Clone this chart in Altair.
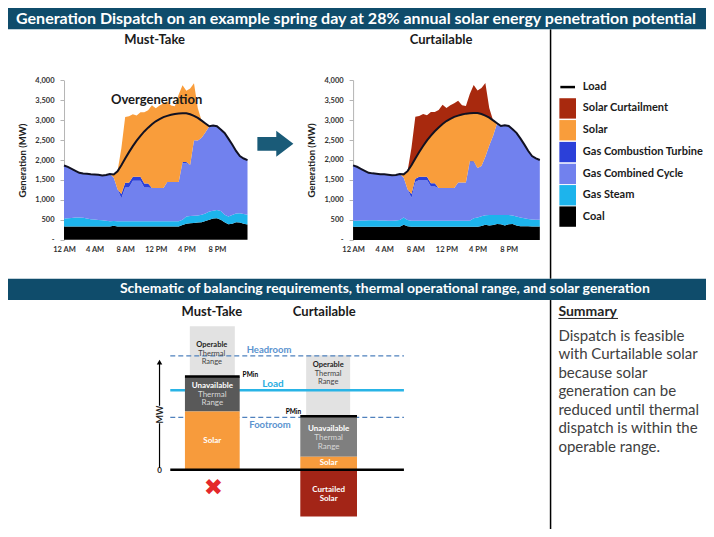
import altair as alt
import pandas as pd

FONT = "Lato"
W, H = 698, 521
KX = W / 714
KY = H / 537

# ---------------- time-series data (MW), half-hour steps from 12 AM to 12 AM ----------------
hours = [i / 2 for i in range(49)]

load = [1865, 1830, 1780, 1730, 1680, 1665, 1655, 1645, 1640, 1630, 1615, 1625, 1650,
        1640, 1720, 1870, 2040, 2200, 2350, 2490, 2610, 2720, 2815, 2900, 2975,
        3030, 3080, 3110, 3140, 3160, 3170, 3175, 3175, 3150, 3110, 3060, 2990,
        2920, 2850, 2870, 2850, 2770, 2680, 2540, 2390, 2230, 2100, 2040, 2000]

# top of thermal generation plus all available solar
supply_top = [1865, 1830, 1780, 1730, 1680, 1665, 1655, 1645, 1640, 1630, 1615, 1625, 1650,
              1640, 1720, 2300, 3080, 3100, 3150, 3120, 3200, 3200, 3250, 3380, 3300,
              3370, 3420, 3480, 3370, 3350, 3650, 3880, 3740, 3800, 3930, 3300, 2990,
              2920, 2850, 2870, 2850, 2770, 2680, 2540, 2390, 2230, 2100, 2040, 2000]

# Must-Take case
mt_coal = [330, 330, 330, 330, 330, 330, 330, 330, 330, 330, 330, 330, 330,
           350, 330, 330, 330, 330, 330, 330, 330, 330, 330, 330, 330,
           330, 330, 330, 330, 330, 330, 370, 400, 410, 420, 430, 440,
           470, 500, 530, 540, 500, 440, 390, 400, 440, 430, 400, 380]
mt_steam_top = [530, 540, 545, 555, 560, 550, 530, 515, 505, 495, 487, 475, 462,
                470, 462, 462, 462, 462, 462, 462, 462, 462, 462, 462, 462,
                462, 462, 462, 462, 462, 462, 500, 585, 595, 600, 610, 625,
                660, 705, 730, 745, 720, 625, 585, 620, 655, 665, 645, 625]
mt_cc_top = [1865, 1830, 1780, 1730, 1680, 1665, 1655, 1645, 1640, 1630, 1615, 1625, 1650,
             1560, 1270, 1044, 1313, 1313, 1483, 1483, 1483, 1313, 1313, 1300, 1300,
             1300, 1300, 1450, 1450, 1450, 1450, 1920, 1920, 1880, 2500, 2490, 2560,
             2700, 2850, 2870, 2850, 2770, 2680, 2540, 2390, 2230, 2100, 2040, 2000]
mt_ct_mw = [0, 0, 0, 0, 0, 0, 0, 0, 0, 0, 0, 0, 0,
            0, 0, 105, 120, 120, 100, 100, 100, 100, 100, 0, 0,
            0, 0, 0, 0, 0, 0, 30, 30, 0, 0, 0, 0,
            0, 0, 0, 0, 0, 0, 0, 0, 0, 0, 0, 0]

# Curtailable case
cu_coal = [330, 330, 330, 330, 330, 330, 330, 330, 330, 330, 330, 330, 330,
           380, 340, 330, 330, 330, 330, 330, 330, 330, 330, 330, 330,
           330, 330, 330, 330, 330, 330, 330, 330, 350, 380, 360, 370,
           400, 390, 360, 390, 400, 360, 340, 340, 340, 335, 335, 335]
cu_steam_top = [480, 480, 485, 485, 490, 490, 490, 485, 485, 480, 480, 485, 500,
                560, 500, 480, 480, 480, 480, 480, 480, 480, 480, 480, 480,
                480, 480, 480, 480, 480, 480, 540, 560, 590, 615, 620, 625,
                625, 620, 625, 625, 610, 585, 560, 540, 520, 510, 505, 505]
cu_cc_top = [1865, 1830, 1780, 1730, 1680, 1665, 1655, 1645, 1640, 1630, 1615, 1625, 1650,
             1560, 1270, 1050, 1450, 1500, 1500, 1500, 1336, 1336, 1296, 1296, 1296,
             1296, 1296, 1434, 1434, 1434, 1936, 1936, 1800, 1850, 2080, 2365, 2608,
             2920, 2850, 2870, 2850, 2770, 2680, 2540, 2390, 2230, 2100, 2040, 2000]
cu_ct_mw = [0, 0, 0, 0, 0, 0, 0, 0, 0, 0, 0, 0, 0,
            0, 0, 100, 80, 80, 80, 80, 80, 80, 0, 0, 0,
            0, 0, 0, 0, 0, 30, 30, 0, 0, 0, 0, 0,
            0, 0, 0, 0, 0, 0, 0, 0, 0, 0, 0, 0]

band_names = ["Coal", "Gas Steam", "Gas Combined Cycle", "Gas Combustion Turbine",
              "Solar", "Solar Curtailment"]
band_colors = ["#000000", "#1db4ec", "#7181ee", "#2b40d9", "#f99d3b", "#a8290e"]

x_tick_hours = [0, 4, 8, 12, 16, 20]
x_tick_labels = ["12 AM", "4 AM", "8 AM", "12 PM", "4 PM", "8 PM"]
y_ticks = [0, 500, 1000, 1500, 2000, 2500, 3000, 3500, 4000]

legend_labels = ["Load", "Solar Curtailment", "Solar", "Gas Combustion Turbine",
                 "Gas Combined Cycle", "Gas Steam", "Coal"]

# schematic levels (arbitrary MW units, 0 = zero line)
mt_levels = {"solar": 6.0, "unavailable": 9.6, "operable": 14.8}
cu_levels = {"curtailed": -4.8, "solar": 1.35, "unavailable": 5.45, "operable": 11.8}
headroom_level, load_level, footroom_level = 11.75, 8.2, 5.4

summary_lines = ["Dispatch is feasible", "with Curtailable solar", "because solar",
                 "generation can be", "reduced until thermal", "dispatch is within the",
                 "operable range."]

BANNER = "#0f4c6b"
ARROW = "#1a5b78"

# ---------------- helpers: page canvas in reference pixel units ----------------
SX = alt.Scale(domain=[0, 714], range=[0, W], nice=False, zero=False)
SY = alt.Scale(domain=[0, 537], range=[0, H], nice=False, zero=False)


def X(f="x"):
    return alt.X(f"{f}:Q", scale=SX, axis=None)


def Y(f="y", scale=SY):
    return alt.Y(f"{f}:Q", scale=scale, axis=None)


def rects(rows, color):
    df = pd.DataFrame(rows, columns=["x", "y", "x2", "y2"])
    return alt.Chart(df).mark_rect(color=color).encode(x=X(), y=Y(), x2="x2", y2="y2")


def rules(rows, color, width, dash=None):
    df = pd.DataFrame(rows, columns=["x", "y", "x2", "y2"])
    kw = dict(color=color, strokeWidth=width)
    if dash:
        kw["strokeDash"] = dash
    return alt.Chart(df).mark_rule(**kw).encode(x=X(), y=Y(), x2="x2", y2="y2")


def texts(rows, size, color="#1a1a1a", weight="bold", align="center", font=FONT, angle=None):
    df = pd.DataFrame(rows, columns=["x", "y", "t"])
    kw = dict(fontSize=size, color=color, fontWeight=weight, align=align,
              baseline="middle", font=font)
    if angle is not None:
        kw["angle"] = angle
    return alt.Chart(df).mark_text(**kw).encode(x=X(), y=Y(), text="t:N")


# ---------------- dispatch charts ----------------
def band_table(coal, steam_top, cc_top, ct_mw, curtailable):
    rows = []
    for i, h in enumerate(hours):
        ct_top = cc_top[i] + ct_mw[i]
        parts = [("Coal", 0, coal[i]),
                 ("Gas Steam", coal[i], steam_top[i]),
                 ("Gas Combined Cycle", steam_top[i], cc_top[i]),
                 ("Gas Combustion Turbine", cc_top[i], ct_top)]
        if curtailable:
            solar_top = max(ct_top, min(supply_top[i], load[i]))
            parts.append(("Solar", ct_top, solar_top))
            parts.append(("Solar Curtailment", solar_top, max(solar_top, supply_top[i])))
        else:
            parts.append(("Solar", ct_top, max(ct_top, supply_top[i])))
        rows += [{"h": h, "band": b, "lo": lo, "hi": hi} for b, lo, hi in parts]
    return pd.DataFrame(rows)


load_df = pd.DataFrame({"h": hours, "load": load})
x_label_expr = ("[" + ",".join(f"'{s}'" for s in x_tick_labels) + "][indexof(["
                + ",".join(str(v) for v in x_tick_hours) + "], datum.value)]")


def dispatch_panel(df, rx0, rx1, ry0, ry4000):
    x0, x1 = rx0 * KX, rx1 * KX
    yb, yt = ry0 * KY, ry4000 * KY
    xs = alt.Scale(domain=[0, 24], range=[x0, x1], nice=False, zero=False)
    ys = alt.Scale(domain=[0, 4000], range=[yb, yt], nice=False, zero=False)
    x_axis = alt.Axis(orient="bottom", offset=yb - H, values=x_tick_hours,
                      labelExpr=x_label_expr, domain=False, ticks=False, grid=False,
                      labelPadding=6, labelFont=FONT, labelFontSize=7.5,
                      labelFontWeight="bold", labelColor="#333", labelFlush=False,
                      labelOverlap=False, title=None)
    y_axis = alt.Axis(orient="left", offset=-x0, values=y_ticks,
                      labelExpr="datum.value === 0 ? '-' : format(datum.value, ',')",
                      grid=False, domainColor="#b5b5b5", tickColor="#b5b5b5", tickSize=4,
                      labelPadding=6, labelFont=FONT, labelFontSize=7.5,
                      labelFontWeight="bold", labelColor="#333", labelOverlap=False,
                      title="Generation (MW)", titleFont=FONT, titleFontSize=9.5,
                      titleFontWeight="bold", titleColor="#222", titlePadding=7)
    area = alt.Chart(df).mark_area(interpolate="linear").encode(
        x=alt.X("h:Q", scale=xs, axis=x_axis),
        y=alt.Y("lo:Q", scale=ys, axis=y_axis, stack=None),
        y2="hi",
        color=alt.Color("band:N", scale=alt.Scale(domain=band_names, range=band_colors),
                        legend=None),
    )
    line = alt.Chart(load_df).mark_line(color="#111122", strokeWidth=2).encode(
        x=alt.X("h:Q", scale=xs, axis=x_axis),
        y=alt.Y("load:Q", scale=ys, axis=y_axis),
    )
    return alt.layer(area, line)


chart_mt = dispatch_panel(band_table(mt_coal, mt_steam_top, mt_cc_top, mt_ct_mw, False),
                          57.3, 245, 238.8, 74.7)
chart_cu = dispatch_panel(band_table(cu_coal, cu_steam_top, cu_cc_top, cu_ct_mw, True),
                          353, 544, 239, 74.3)

# ---------------- schematic (bars use a level scale) ----------------
SL = alt.Scale(domain=[-6, 16], range=[536 * KY, 316 * KY], nice=False, zero=False)


def sbars(rows, color):
    df = pd.DataFrame(rows, columns=["x", "x2", "lo", "hi"])
    return alt.Chart(df).mark_rect(color=color).encode(
        x=X(), x2="x2", y=alt.Y("lo:Q", scale=SL, axis=None), y2="hi")


def slines(levels, color, width, dash=None):
    df = pd.DataFrame({"x": [166] * len(levels), "x2": [405] * len(levels), "v": levels})
    kw = dict(color=color, strokeWidth=width)
    if dash:
        kw["strokeDash"] = dash
    return alt.Chart(df).mark_rule(**kw).encode(
        x=X(), x2="x2", y=alt.Y("v:Q", scale=SL, axis=None))


schematic = alt.layer(
    sbars([(186, 232, mt_levels["unavailable"], mt_levels["operable"]),
           (305, 350, cu_levels["unavailable"], cu_levels["operable"])], "#e2e2e2"),
    slines([headroom_level, footroom_level], "#4f81bd", 1.3, [5, 3]),
    slines([load_level], "#29b4e6", 2.5),
    sbars([(181, 237, mt_levels["solar"], mt_levels["unavailable"])], "#595959"),
    sbars([(299, 357, cu_levels["solar"], cu_levels["unavailable"])], "#7f7f7f"),
    sbars([(181, 237, 0, mt_levels["solar"]), (299, 357, 0, cu_levels["solar"])], "#f79b3c"),
    sbars([(299, 357, cu_levels["curtailed"], 0)], "#a32517"),
    sbars([(181, 237, mt_levels["unavailable"] - 0.1, mt_levels["unavailable"] + 0.15),
           (299, 357, cu_levels["unavailable"] - 0.05, cu_levels["unavailable"] + 0.2)], "#000000"),
    slines([0], "#000000", 2.5),
)

# ---------------- page canvas: banners, dividers ----------------
canvas_bg = alt.layer(
    rects([(0, 0, 714, 22), (0, 279, 714, 301)], BANNER),
    rules([(555, 22, 555, 279), (555, 301, 555, 537)], "#000000", 1.5),
)

ARROW_PATH = "M -1 -0.38 L 0.05 -0.38 L 0.05 -0.72 L 1 0 L 0.05 0.72 L 0.05 0.38 L -1 0.38 Z"
arrow = alt.Chart(pd.DataFrame({"x": [273.5], "y": [140]})).mark_point(
    shape=ARROW_PATH, size=36 * 36, filled=True, color=ARROW, opacity=1, strokeWidth=0
).encode(x=X(), y=Y())

mw_head = alt.Chart(pd.DataFrame({"x": [155], "y": [365]})).mark_point(
    shape="triangle-up", size=30, filled=True, color="#000000", opacity=1, strokeWidth=0
).encode(x=X(), y=Y())

legend_y = [81.5, 103.5, 126, 148.5, 171, 193, 215]
legend_colors = dict(zip(band_names, band_colors))
legend_layers = [rules([(565, legend_y[0], 580, legend_y[0])], "#000000", 2.5)]
for i, name in enumerate(legend_labels[1:], start=1):
    yc = legend_y[i]
    legend_layers.append(rects([(564, yc - 10.5, 581, yc + 10.5)], legend_colors[name]))
legend_layers.append(texts([(588, y, t) for y, t in zip(legend_y, legend_labels)], 11,
                           align="left"))

canvas_fg = alt.layer(
    texts([(356, 11, "Generation Dispatch on an example spring day at 28% annual solar energy penetration potential")],
          16, color="white"),
    texts([(385.5, 290, "Schematic of balancing requirements, thermal operational range, and solar generation")],
          14, color="white"),
    texts([(150, 33, "Must-Take"), (443, 33, "Curtailable"),
           (208.5, 313, "Must-Take"), (323.5, 313, "Curtailable")], 13),
    texts([(152, 95, "Overgeneration")], 13),
    arrow,
    *legend_layers,
    # summary
    texts([(563, 313, "Summary")], 14, color="#262626", align="left"),
    rules([(563, 320, 624, 320)], "#262626", 1),
    texts([(563, 338 + 19 * i, s) for i, s in enumerate(summary_lines)], 15,
          color="#404040", weight="normal", align="left"),
    # schematic annotations
    texts([(208.5, 347.5, "Operable"), (327.5, 368, "Operable")], 7.5, color="#222"),
    texts([(208.5, 356.5, "Thermal"), (208.5, 365, "Range"),
           (327.5, 377, "Thermal"), (327.5, 386, "Range")], 7.5, color="#444", weight="normal"),
    texts([(209, 389.5, "Unavailable"), (328, 434, "Unavailable"),
           (209, 446.5, "Solar"), (328, 469, "Solar"),
           (328, 497, "Curtailed"), (328, 506, "Solar")], 8, color="white"),
    texts([(209, 398.5, "Thermal"), (209, 407.5, "Range"),
           (328, 443, "Thermal"), (328, 452, "Range")], 8, color="#d8d8d8", weight="normal"),
    texts([(240, 378, "PMin"), (284, 416, "PMin")], 6.5, color="#000", align="left"),
    texts([(267, 352, "Headroom"), (268, 429.5, "Footroom")], 9.5, color="#5b93cf"),
    texts([(271, 387.5, "Load")], 10, color="#2aaee0"),
    texts([(155, 477, "0")], 8, color="#222"),
    rules([(155, 366, 155, 410), (155, 428, 155, 474)], "#000000", 1.2),
    mw_head,
    texts([(155, 419, "MW")], 9, color="#222", angle=270),
    texts([(210, 495, "\u2716")], 23, color="#e4282b", font="DejaVu Sans"),
)

chart = alt.layer(canvas_bg, chart_mt, chart_cu, schematic, canvas_fg).resolve_scale(
    x="independent", y="independent", color="independent"
).resolve_axis(x="independent", y="independent").properties(
    width=W, height=H, padding=0, background="white",
    autosize=alt.AutoSizeParams(type="none"),
).configure_view(stroke=None)

chart.save("out.html", embed_options={"renderer": "svg", "actions": False})
